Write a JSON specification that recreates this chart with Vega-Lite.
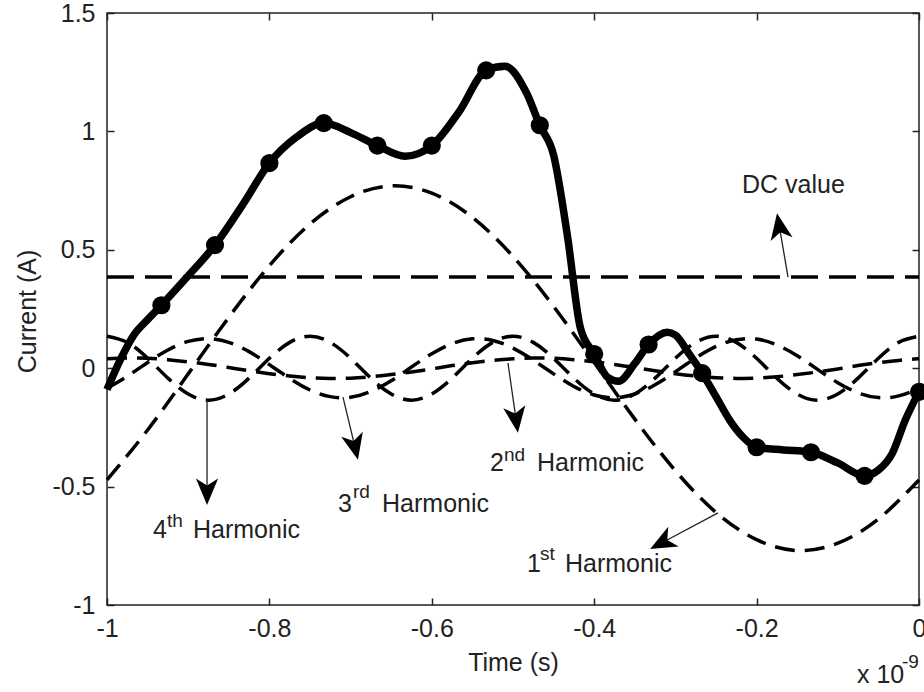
{
  "$schema": "https://vega.github.io/schema/vega-lite/v6.json",
  "width": 812,
  "height": 592,
  "autosize": {"type": "none"},
  "padding": {"left": 107, "top": 13, "right": 5, "bottom": 87},
  "background": "white",
  "config": {
    "view": {"stroke": "#222", "strokeWidth": 1.5},
    "font": "Liberation Sans",
    "axis": {
      "domain": false, "grid": false,
      "labelFont": "Liberation Sans", "labelFontSize": 25, "labelColor": "#222",
      "titleFont": "Liberation Sans", "titleFontSize": 25, "titleFontWeight": "normal", "titleColor": "#222",
      "tickColor": "#222", "tickWidth": 1.5, "tickSize": -7
    },
    "text": {"font": "Liberation Sans", "color": "#222"}
  },
  "datasets": {
    "main": [
      {"t": -1, "current": -0.09, "sample": false},
      {"t": -0.983, "current": 0.04, "sample": false},
      {"t": -0.967, "current": 0.14, "sample": false},
      {"t": -0.95, "current": 0.205, "sample": false},
      {"t": -0.933, "current": 0.266, "sample": true},
      {"t": -0.9, "current": 0.39, "sample": false},
      {"t": -0.867, "current": 0.52, "sample": true},
      {"t": -0.833, "current": 0.69, "sample": false},
      {"t": -0.8, "current": 0.866, "sample": true},
      {"t": -0.767, "current": 0.975, "sample": false},
      {"t": -0.733, "current": 1.035, "sample": true},
      {"t": -0.7, "current": 0.995, "sample": false},
      {"t": -0.667, "current": 0.94, "sample": true},
      {"t": -0.633, "current": 0.895, "sample": false},
      {"t": -0.6, "current": 0.94, "sample": true},
      {"t": -0.567, "current": 1.08, "sample": false},
      {"t": -0.533, "current": 1.258, "sample": true},
      {"t": -0.51, "current": 1.275, "sample": false},
      {"t": -0.483, "current": 1.16, "sample": false},
      {"t": -0.467, "current": 1.026, "sample": true},
      {"t": -0.45, "current": 0.9, "sample": false},
      {"t": -0.433, "current": 0.56, "sample": false},
      {"t": -0.417, "current": 0.17, "sample": false},
      {"t": -0.4, "current": 0.06, "sample": true},
      {"t": -0.383, "current": -0.04, "sample": false},
      {"t": -0.37, "current": -0.055, "sample": false},
      {"t": -0.35, "current": 0.02, "sample": false},
      {"t": -0.333, "current": 0.1, "sample": true},
      {"t": -0.31, "current": 0.152, "sample": false},
      {"t": -0.3, "current": 0.14, "sample": false},
      {"t": -0.283, "current": 0.06, "sample": false},
      {"t": -0.267, "current": -0.021, "sample": true},
      {"t": -0.25, "current": -0.12, "sample": false},
      {"t": -0.233, "current": -0.22, "sample": false},
      {"t": -0.217, "current": -0.29, "sample": false},
      {"t": -0.2, "current": -0.334, "sample": true},
      {"t": -0.167, "current": -0.345, "sample": false},
      {"t": -0.133, "current": -0.355, "sample": true},
      {"t": -0.1, "current": -0.4, "sample": false},
      {"t": -0.067, "current": -0.455, "sample": true},
      {"t": -0.05, "current": -0.43, "sample": false},
      {"t": -0.033, "current": -0.36, "sample": false},
      {"t": -0.017, "current": -0.22, "sample": false},
      {"t": 0, "current": -0.1, "sample": true}
    ],
    "dc": [
      {"t": -1, "current": 0.385},
      {"t": 0, "current": 0.385}
    ],
    "harm": [
      {"series": "1st", "t": -1, "current": -0.472},
      {"series": "1st", "t": -0.95, "current": -0.261},
      {"series": "1st", "t": -0.9, "current": -0.024},
      {"series": "1st", "t": -0.85, "current": 0.215},
      {"series": "1st", "t": -0.8, "current": 0.433},
      {"series": "1st", "t": -0.75, "current": 0.609},
      {"series": "1st", "t": -0.7, "current": 0.724},
      {"series": "1st", "t": -0.65, "current": 0.77},
      {"series": "1st", "t": -0.6, "current": 0.739},
      {"series": "1st", "t": -0.55, "current": 0.637},
      {"series": "1st", "t": -0.5, "current": 0.472},
      {"series": "1st", "t": -0.45, "current": 0.261},
      {"series": "1st", "t": -0.4, "current": 0.024},
      {"series": "1st", "t": -0.35, "current": -0.215},
      {"series": "1st", "t": -0.3, "current": -0.433},
      {"series": "1st", "t": -0.25, "current": -0.609},
      {"series": "1st", "t": -0.2, "current": -0.724},
      {"series": "1st", "t": -0.15, "current": -0.77},
      {"series": "1st", "t": -0.1, "current": -0.739},
      {"series": "1st", "t": -0.05, "current": -0.637},
      {"series": "1st", "t": 0, "current": -0.472},

      {"series": "2nd", "t": -1, "current": 0.04},
      {"series": "2nd", "t": -0.975, "current": 0.043},
      {"series": "2nd", "t": -0.95, "current": 0.042},
      {"series": "2nd", "t": -0.925, "current": 0.036},
      {"series": "2nd", "t": -0.9, "current": 0.027},
      {"series": "2nd", "t": -0.875, "current": 0.016},
      {"series": "2nd", "t": -0.85, "current": 0.003},
      {"series": "2nd", "t": -0.825, "current": -0.011},
      {"series": "2nd", "t": -0.8, "current": -0.023},
      {"series": "2nd", "t": -0.775, "current": -0.033},
      {"series": "2nd", "t": -0.75, "current": -0.04},
      {"series": "2nd", "t": -0.725, "current": -0.043},
      {"series": "2nd", "t": -0.7, "current": -0.042},
      {"series": "2nd", "t": -0.675, "current": -0.036},
      {"series": "2nd", "t": -0.65, "current": -0.027},
      {"series": "2nd", "t": -0.625, "current": -0.016},
      {"series": "2nd", "t": -0.6, "current": -0.003},
      {"series": "2nd", "t": -0.575, "current": 0.011},
      {"series": "2nd", "t": -0.55, "current": 0.023},
      {"series": "2nd", "t": -0.525, "current": 0.033},
      {"series": "2nd", "t": -0.5, "current": 0.04},
      {"series": "2nd", "t": -0.475, "current": 0.043},
      {"series": "2nd", "t": -0.45, "current": 0.042},
      {"series": "2nd", "t": -0.425, "current": 0.036},
      {"series": "2nd", "t": -0.4, "current": 0.027},
      {"series": "2nd", "t": -0.375, "current": 0.016},
      {"series": "2nd", "t": -0.35, "current": 0.003},
      {"series": "2nd", "t": -0.325, "current": -0.011},
      {"series": "2nd", "t": -0.3, "current": -0.023},
      {"series": "2nd", "t": -0.275, "current": -0.033},
      {"series": "2nd", "t": -0.25, "current": -0.04},
      {"series": "2nd", "t": -0.225, "current": -0.043},
      {"series": "2nd", "t": -0.2, "current": -0.042},
      {"series": "2nd", "t": -0.175, "current": -0.036},
      {"series": "2nd", "t": -0.15, "current": -0.027},
      {"series": "2nd", "t": -0.125, "current": -0.016},
      {"series": "2nd", "t": -0.1, "current": -0.003},
      {"series": "2nd", "t": -0.075, "current": 0.011},
      {"series": "2nd", "t": -0.05, "current": 0.023},
      {"series": "2nd", "t": -0.025, "current": 0.033},
      {"series": "2nd", "t": 0, "current": 0.04},

      {"series": "3rd", "t": -1, "current": -0.085},
      {"series": "3rd", "t": -0.975, "current": -0.034},
      {"series": "3rd", "t": -0.95, "current": 0.024},
      {"series": "3rd", "t": -0.925, "current": 0.077},
      {"series": "3rd", "t": -0.9, "current": 0.113},
      {"series": "3rd", "t": -0.875, "current": 0.125},
      {"series": "3rd", "t": -0.85, "current": 0.109},
      {"series": "3rd", "t": -0.825, "current": 0.07},
      {"series": "3rd", "t": -0.8, "current": 0.015},
      {"series": "3rd", "t": -0.775, "current": -0.043},
      {"series": "3rd", "t": -0.75, "current": -0.092},
      {"series": "3rd", "t": -0.725, "current": -0.12},
      {"series": "3rd", "t": -0.7, "current": -0.123},
      {"series": "3rd", "t": -0.675, "current": -0.098},
      {"series": "3rd", "t": -0.65, "current": -0.053},
      {"series": "3rd", "t": -0.625, "current": 0.005},
      {"series": "3rd", "t": -0.6, "current": 0.061},
      {"series": "3rd", "t": -0.575, "current": 0.104},
      {"series": "3rd", "t": -0.55, "current": 0.124},
      {"series": "3rd", "t": -0.525, "current": 0.117},
      {"series": "3rd", "t": -0.5, "current": 0.085},
      {"series": "3rd", "t": -0.475, "current": 0.034},
      {"series": "3rd", "t": -0.45, "current": -0.024},
      {"series": "3rd", "t": -0.425, "current": -0.077},
      {"series": "3rd", "t": -0.4, "current": -0.113},
      {"series": "3rd", "t": -0.375, "current": -0.125},
      {"series": "3rd", "t": -0.35, "current": -0.109},
      {"series": "3rd", "t": -0.325, "current": -0.07},
      {"series": "3rd", "t": -0.3, "current": -0.015},
      {"series": "3rd", "t": -0.275, "current": 0.043},
      {"series": "3rd", "t": -0.25, "current": 0.092},
      {"series": "3rd", "t": -0.225, "current": 0.12},
      {"series": "3rd", "t": -0.2, "current": 0.123},
      {"series": "3rd", "t": -0.175, "current": 0.098},
      {"series": "3rd", "t": -0.15, "current": 0.053},
      {"series": "3rd", "t": -0.125, "current": -0.005},
      {"series": "3rd", "t": -0.1, "current": -0.061},
      {"series": "3rd", "t": -0.075, "current": -0.104},
      {"series": "3rd", "t": -0.05, "current": -0.124},
      {"series": "3rd", "t": -0.025, "current": -0.117},
      {"series": "3rd", "t": 0, "current": -0.085},

      {"series": "4th", "t": -1, "current": 0.135},
      {"series": "4th", "t": -0.975, "current": 0.109},
      {"series": "4th", "t": -0.95, "current": 0.042},
      {"series": "4th", "t": -0.925, "current": -0.042},
      {"series": "4th", "t": -0.9, "current": -0.109},
      {"series": "4th", "t": -0.875, "current": -0.135},
      {"series": "4th", "t": -0.85, "current": -0.109},
      {"series": "4th", "t": -0.825, "current": -0.042},
      {"series": "4th", "t": -0.8, "current": 0.042},
      {"series": "4th", "t": -0.775, "current": 0.109},
      {"series": "4th", "t": -0.75, "current": 0.135},
      {"series": "4th", "t": -0.725, "current": 0.109},
      {"series": "4th", "t": -0.7, "current": 0.042},
      {"series": "4th", "t": -0.675, "current": -0.042},
      {"series": "4th", "t": -0.65, "current": -0.109},
      {"series": "4th", "t": -0.625, "current": -0.135},
      {"series": "4th", "t": -0.6, "current": -0.109},
      {"series": "4th", "t": -0.575, "current": -0.042},
      {"series": "4th", "t": -0.55, "current": 0.042},
      {"series": "4th", "t": -0.525, "current": 0.109},
      {"series": "4th", "t": -0.5, "current": 0.135},
      {"series": "4th", "t": -0.475, "current": 0.109},
      {"series": "4th", "t": -0.45, "current": 0.042},
      {"series": "4th", "t": -0.425, "current": -0.042},
      {"series": "4th", "t": -0.4, "current": -0.109},
      {"series": "4th", "t": -0.375, "current": -0.135},
      {"series": "4th", "t": -0.35, "current": -0.109},
      {"series": "4th", "t": -0.325, "current": -0.042},
      {"series": "4th", "t": -0.3, "current": 0.042},
      {"series": "4th", "t": -0.275, "current": 0.109},
      {"series": "4th", "t": -0.25, "current": 0.135},
      {"series": "4th", "t": -0.225, "current": 0.109},
      {"series": "4th", "t": -0.2, "current": 0.042},
      {"series": "4th", "t": -0.175, "current": -0.042},
      {"series": "4th", "t": -0.15, "current": -0.109},
      {"series": "4th", "t": -0.125, "current": -0.135},
      {"series": "4th", "t": -0.1, "current": -0.109},
      {"series": "4th", "t": -0.075, "current": -0.042},
      {"series": "4th", "t": -0.05, "current": 0.042},
      {"series": "4th", "t": -0.025, "current": 0.109},
      {"series": "4th", "t": 0, "current": 0.135}
    ],
    "arrows": [
      {"name": "DC value", "t": -0.1613, "current": 0.385, "t2": -0.1719, "current2": 0.597, "direction": -10},
      {"name": "2nd Harmonic", "t": -0.5062, "current": 0.022, "t2": -0.4963, "current2": -0.215, "direction": 172},
      {"name": "3rd Harmonic", "t": -0.7094, "current": -0.122, "t2": -0.6948, "current2": -0.33, "direction": 167},
      {"name": "4th Harmonic", "t": -0.8768, "current": -0.134, "t2": -0.8768, "current2": -0.519, "direction": 180},
      {"name": "1st Harmonic", "t": -0.2475, "current": -0.611, "t2": -0.316, "current2": -0.736, "direction": -118}
    ],
    "labels": [
      {"role": "base", "t": -0.218, "current": 0.74, "text": "DC value"},
      {"role": "base", "t": -0.9433, "current": -0.717, "text": "4"},
      {"role": "sup", "t": -0.9261, "current": -0.671, "text": "th"},
      {"role": "base", "t": -0.8941, "current": -0.717, "text": "Harmonic"},
      {"role": "base", "t": -0.7155, "current": -0.607, "text": "3"},
      {"role": "sup", "t": -0.697, "current": -0.548, "text": "rd"},
      {"role": "base", "t": -0.6613, "current": -0.607, "text": "Harmonic"},
      {"role": "base", "t": -0.5283, "current": -0.434, "text": "2"},
      {"role": "sup", "t": -0.5111, "current": -0.392, "text": "nd"},
      {"role": "base", "t": -0.4704, "current": -0.434, "text": "Harmonic"},
      {"role": "base", "t": -0.4828, "current": -0.861, "text": "1"},
      {"role": "sup", "t": -0.4667, "current": -0.811, "text": "st"},
      {"role": "base", "t": -0.436, "current": -0.861, "text": "Harmonic"},
      {"role": "base", "t": -0.0764, "current": -1.329, "text": "x 10"},
      {"role": "sup", "t": -0.0209, "current": -1.266, "text": "-9"}
    ]
  },
  "layer": [
    {
      "data": {"name": "harm"},
      "mark": {"type": "line", "interpolate": "natural", "color": "black", "strokeWidth": 3.5, "strokeDash": [20, 10]},
      "encoding": {
        "x": {"field": "t", "type": "quantitative", "scale": {"domain": [-1, 0], "nice": false, "zero": false}, "axis": null},
        "y": {"field": "current", "type": "quantitative", "scale": {"domain": [-1, 1.5], "nice": false, "zero": false}, "axis": null},
        "detail": {"field": "series", "type": "nominal"}
      }
    },
    {
      "data": {"name": "dc"},
      "mark": {"type": "line", "color": "black", "strokeWidth": 3.5, "strokeDash": [27, 11]},
      "encoding": {
        "x": {"field": "t", "type": "quantitative", "scale": {"domain": [-1, 0], "nice": false, "zero": false},
              "axis": {"orient": "top", "labels": false, "title": null, "values": [-1, -0.8, -0.6, -0.4, -0.2, 0]}},
        "y": {"field": "current", "type": "quantitative", "scale": {"domain": [-1, 1.5], "nice": false, "zero": false},
              "axis": {"orient": "right", "labels": false, "title": null, "values": [-1, -0.5, 0, 0.5, 1, 1.5]}}
      }
    },
    {
      "data": {"name": "main"},
      "mark": {"type": "line", "interpolate": "monotone", "color": "black", "strokeWidth": 7.5},
      "encoding": {
        "x": {"field": "t", "type": "quantitative", "scale": {"domain": [-1, 0], "nice": false, "zero": false},
              "axis": {"orient": "bottom", "title": "Time (s)", "values": [-1, -0.8, -0.6, -0.4, -0.2, 0], "format": "~g",
                       "labelExpr": "replace(datum.label, '\u2212', '-')", "labelPadding": 18, "labelFlush": false,
                       "titleBaseline": "alphabetic", "titleY": 65}},
        "y": {"field": "current", "type": "quantitative", "scale": {"domain": [-1, 1.5], "nice": false, "zero": false},
              "axis": {"orient": "left", "title": "Current (A)", "values": [-1, -0.5, 0, 0.5, 1, 1.5], "format": "~g",
                       "labelExpr": "replace(datum.label, '\u2212', '-')", "labelPadding": 19, "labelFlush": false,
                       "titleBaseline": "alphabetic", "titleX": -72, "titleY": 298, "titleAngle": -90}}
      }
    },
    {
      "data": {"name": "main"},
      "transform": [{"filter": "datum.sample"}],
      "mark": {"type": "point", "shape": "circle", "filled": true, "color": "black", "opacity": 1, "size": 330},
      "encoding": {
        "x": {"field": "t", "type": "quantitative", "scale": {"domain": [-1, 0], "nice": false, "zero": false}, "axis": null},
        "y": {"field": "current", "type": "quantitative", "scale": {"domain": [-1, 1.5], "nice": false, "zero": false}, "axis": null}
      }
    },
    {
      "data": {"name": "arrows"},
      "mark": {"type": "rule", "color": "#222", "strokeWidth": 1.3},
      "encoding": {
        "x": {"field": "t", "type": "quantitative", "scale": {"domain": [-1, 0], "nice": false, "zero": false}, "axis": null},
        "y": {"field": "current", "type": "quantitative", "scale": {"domain": [-1, 1.5], "nice": false, "zero": false}, "axis": null},
        "x2": {"field": "t2"},
        "y2": {"field": "current2"}
      }
    },
    {
      "data": {"name": "arrows"},
      "mark": {"type": "point", "shape": "M0,-1L0.8,0.9L0,0.4L-0.8,0.9Z", "filled": true, "color": "black", "opacity": 1, "size": 770},
      "encoding": {
        "x": {"field": "t2", "type": "quantitative", "scale": {"domain": [-1, 0], "nice": false, "zero": false}, "axis": null},
        "y": {"field": "current2", "type": "quantitative", "scale": {"domain": [-1, 1.5], "nice": false, "zero": false}, "axis": null},
        "angle": {"field": "direction", "type": "quantitative", "scale": null}
      }
    },
    {
      "data": {"name": "labels"},
      "transform": [{"filter": "datum.role == 'base'"}],
      "mark": {"type": "text", "align": "left", "baseline": "alphabetic", "fontSize": 25, "color": "#222"},
      "encoding": {
        "x": {"field": "t", "type": "quantitative", "scale": {"domain": [-1, 0], "nice": false, "zero": false}, "axis": null},
        "y": {"field": "current", "type": "quantitative", "scale": {"domain": [-1, 1.5], "nice": false, "zero": false}, "axis": null},
        "text": {"field": "text"}
      }
    },
    {
      "data": {"name": "labels"},
      "transform": [{"filter": "datum.role == 'sup'"}],
      "mark": {"type": "text", "align": "left", "baseline": "alphabetic", "fontSize": 19, "color": "#222"},
      "encoding": {
        "x": {"field": "t", "type": "quantitative", "scale": {"domain": [-1, 0], "nice": false, "zero": false}, "axis": null},
        "y": {"field": "current", "type": "quantitative", "scale": {"domain": [-1, 1.5], "nice": false, "zero": false}, "axis": null},
        "text": {"field": "text"}
      }
    }
  ],
  "resolve": {"axis": {"x": "independent", "y": "independent"}}
}
